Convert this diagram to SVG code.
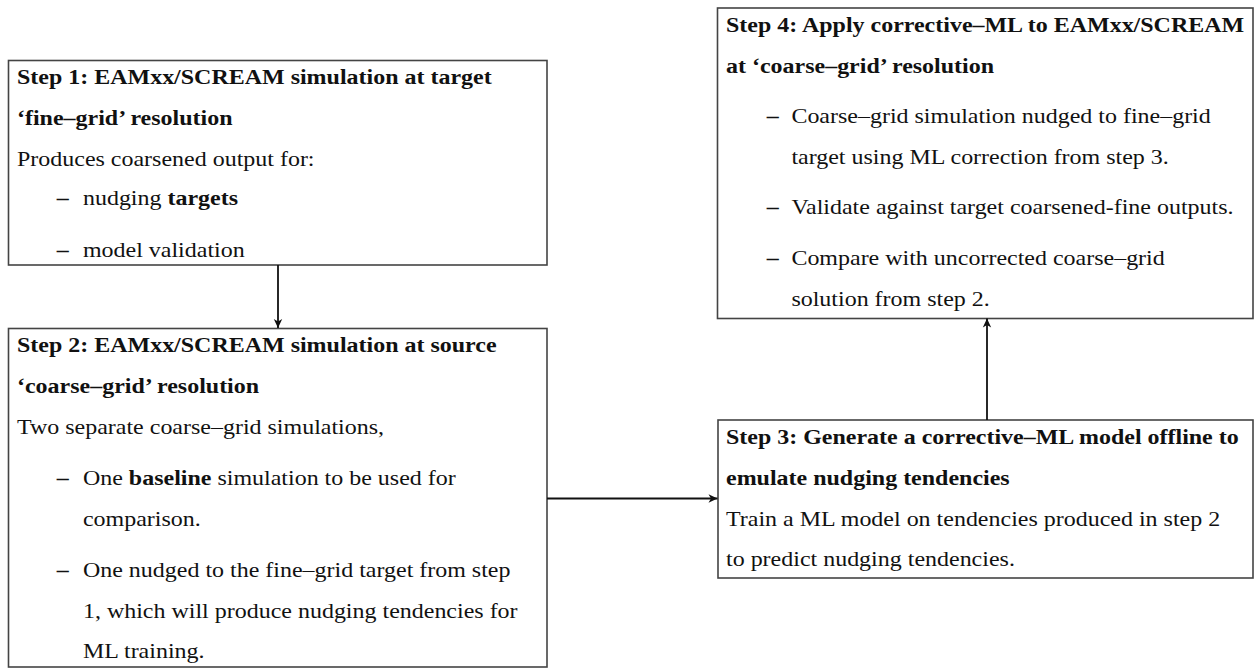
<svg xmlns="http://www.w3.org/2000/svg" width="1254" height="669" viewBox="0 0 1254 669">
<defs>
<style>
.box{fill:#ffffff;stroke:#444444;stroke-width:1.6}
.t{font-family:"Liberation Serif","Times New Roman",serif;font-size:22px;fill:#111111}
.b{font-weight:bold}
.conn{stroke:#111111;stroke-width:1.8;fill:none}
</style>
<marker id="arr" markerUnits="userSpaceOnUse" viewBox="-10 -5 11 10" refX="0" refY="0" markerWidth="11" markerHeight="10" orient="auto">
<path d="M0,0 L-9,-4.2 L-6.5,0 L-9,4.2 Z" fill="#111111"/>
</marker>
</defs>
<rect width="1254" height="669" fill="#ffffff"/>

<g id="step1">
<rect class="box" x="8.5" y="60.5" width="538.5" height="204.5"/>
<g transform="translate(17,0) scale(1.09,1)">
<text class="t b" x="0" y="84">Step 1: EAMxx/SCREAM simulation at target</text>
<text class="t b" x="0" y="125">‘fine–grid’ resolution</text>
<text class="t" x="0" y="166">Produces coarsened output for:</text>
<text class="t" y="205"><tspan class="b" x="36.5">–</tspan><tspan x="60.5">nudging </tspan><tspan class="b">targets</tspan></text>
<text class="t" y="257"><tspan class="b" x="36.5">–</tspan><tspan x="60.5">model validation</tspan></text>
</g>
</g>

<g id="step2">
<rect class="box" x="8.5" y="328.5" width="538.5" height="338.5"/>
<g transform="translate(17,0) scale(1.09,1)">
<text class="t b" x="0" y="352">Step 2: EAMxx/SCREAM simulation at source</text>
<text class="t b" x="0" y="393">‘coarse–grid’ resolution</text>
<text class="t" x="0" y="434">Two separate coarse–grid simulations,</text>
<text class="t" y="485"><tspan class="b" x="36.5">–</tspan><tspan x="60.5">One </tspan><tspan class="b">baseline</tspan><tspan> simulation to be used for</tspan></text>
<text class="t" x="60.5" y="526">comparison.</text>
<text class="t" y="577"><tspan class="b" x="36.5">–</tspan><tspan x="60.5">One nudged to the fine–grid target from step</tspan></text>
<text class="t" x="60.5" y="618">1, which will produce nudging tendencies for</text>
<text class="t" x="60.5" y="658">ML training.</text>
</g>
</g>

<g id="step3">
<rect class="box" x="718" y="420" width="535" height="158"/>
<g transform="translate(726,0) scale(1.09,1)">
<text class="t b" x="0" y="444">Step 3: Generate a corrective–ML model offline to</text>
<text class="t b" x="0" y="485">emulate nudging tendencies</text>
<text class="t" x="0" y="526">Train a ML model on tendencies produced in step 2</text>
<text class="t" x="0" y="566">to predict nudging tendencies.</text>
</g>
</g>

<g id="step4">
<rect class="box" x="717.5" y="8" width="535.5" height="310.5"/>
<g transform="translate(726,0) scale(1.09,1)">
<text class="t b" x="0" y="32">Step 4: Apply corrective–ML to EAMxx/SCREAM</text>
<text class="t b" x="0" y="73">at ‘coarse–grid’ resolution</text>
<text class="t" y="123"><tspan class="b" x="37.5">–</tspan><tspan x="60">Coarse–grid simulation nudged to fine–grid</tspan></text>
<text class="t" x="60" y="164">target using ML correction from step 3.</text>
<text class="t" y="214"><tspan class="b" x="37.5">–</tspan><tspan x="60">Validate against target coarsened-fine outputs.</tspan></text>
<text class="t" y="265"><tspan class="b" x="37.5">–</tspan><tspan x="60">Compare with uncorrected coarse–grid</tspan></text>
<text class="t" x="60" y="306">solution from step 2.</text>
</g>
</g>

<g id="connectors">
<line class="conn" x1="278" y1="265" x2="278" y2="328" marker-end="url(#arr)"/>
<line class="conn" x1="547" y1="498.5" x2="717.5" y2="498.5" marker-end="url(#arr)"/>
<line class="conn" x1="987" y1="420" x2="987" y2="318.5" marker-end="url(#arr)"/>
</g>
</svg>
